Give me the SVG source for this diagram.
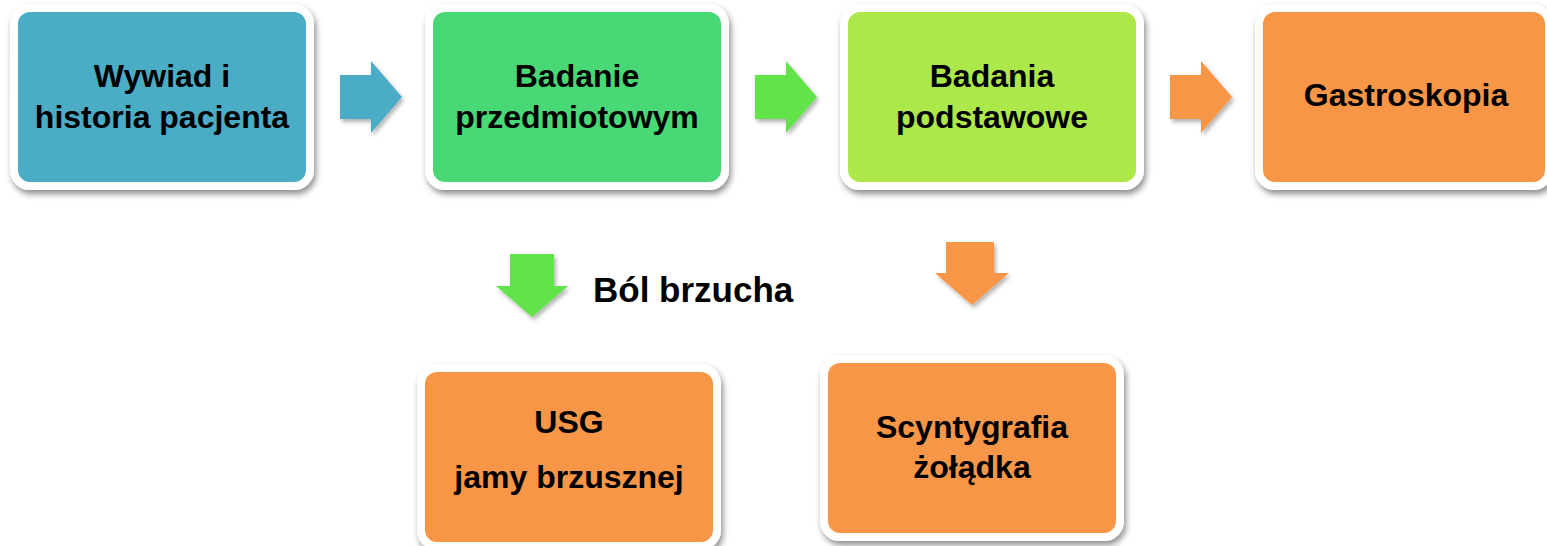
<svg xmlns="http://www.w3.org/2000/svg" width="1547" height="546" viewBox="0 0 1547 546">
<defs>
<filter id="sh" x="-10%" y="-10%" width="125%" height="130%">
<feDropShadow dx="2" dy="4" stdDeviation="3" flood-color="#000" flood-opacity="0.45"/>
</filter>
<filter id="ash" x="-20%" y="-20%" width="150%" height="150%">
<feDropShadow dx="2" dy="3" stdDeviation="2" flood-color="#000" flood-opacity="0.3"/>
</filter>
</defs>
<style>
.box{stroke:#fff;stroke-width:8;filter:url(#sh)}
.t{font-family:"Liberation Sans",Arial,sans-serif;font-weight:bold;font-size:32px;fill:#000;text-anchor:middle}
.lbl{font-family:"Liberation Sans",Arial,sans-serif;font-weight:bold;font-size:35px;fill:#000}
.arr{filter:url(#ash)}
</style>
<rect width="1547" height="546" fill="#fff"/>
<g id="connectors">
<polygon class="arr" fill="#4BACC6" points="340,75 371,75 371,61 402,97 371,133 371,119 340,119"/>
<polygon class="arr" fill="#62E34A" points="755,75 786,75 786,61 817,97 786,133 786,119 755,119"/>
<polygon class="arr" fill="#F79646" points="1170,75 1201,75 1201,61 1232,97 1201,133 1201,119 1170,119"/>
<polygon class="arr" fill="#62E34A" points="510,254 554,254 554,286 568,286 532,317 496,286 510,286"/>
<polygon class="arr" fill="#F79646" points="946,242 994,242 994,273 1009,273 972,305 935,273 946,273"/>
<text class="lbl" x="593" y="302">Ból brzucha</text>
</g>
<g id="n1">
<rect class="box" x="14" y="8" width="296" height="178" rx="16" fill="#4BACC6"/>
<text class="t" x="162" y="87">Wywiad i</text>
<text class="t" x="162" y="128">historia pacjenta</text>
</g>
<g id="n2">
<rect class="box" x="429" y="8" width="296" height="178" rx="16" fill="#4AD876"/>
<text class="t" x="577" y="87">Badanie</text>
<text class="t" x="577" y="128">przedmiotowym</text>
</g>
<g id="n3">
<rect class="box" x="844" y="8" width="296" height="178" rx="16" fill="#ACE84A"/>
<text class="t" x="992" y="87">Badania</text>
<text class="t" x="992" y="128">podstawowe</text>
</g>
<g id="n4">
<rect class="box" x="1259" y="8" width="290" height="178" rx="16" fill="#F79646"/>
<text class="t" x="1406" y="106">Gastroskopia</text>
</g>
<g id="n5">
<rect class="box" x="421" y="368" width="296" height="178" rx="16" fill="#F79646"/>
<text class="t" x="569" y="433">USG</text>
<text class="t" x="569" y="488">jamy brzusznej</text>
</g>
<g id="n6">
<rect class="box" x="824" y="359" width="296" height="178" rx="16" fill="#F79646"/>
<text class="t" x="972" y="438">Scyntygrafia</text>
<text class="t" x="972" y="478">żołądka</text>
</g>
</svg>
